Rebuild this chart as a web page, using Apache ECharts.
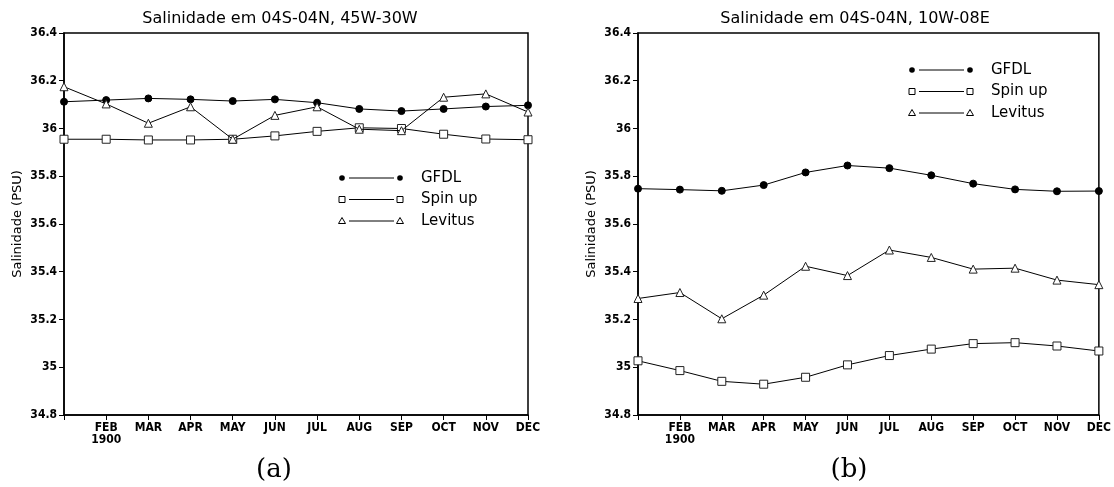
<!DOCTYPE html>
<html>
<head>
<meta charset="utf-8">
<script src="https://cdn.jsdelivr.net/npm/echarts@6/dist/echarts.min.js"></script>
<style>
html,body{margin:0;padding:0;background:#fff;}
#c{width:1114px;height:487px;}
</style>
</head>
<body>
<div id="c"></div>
<script>
// ---- data ----
var months = ['JAN','FEB','MAR','APR','MAY','JUN','JUL','AUG','SEP','OCT','NOV','DEC'];
var monthLabels = ['', 'FEB\n1900', 'MAR', 'APR', 'MAY', 'JUN', 'JUL', 'AUG', 'SEP', 'OCT', 'NOV', 'DEC'];
var seriesNames = ['GFDL', 'Spin up', 'Levitus'];
var titles = ['Salinidade em 04S-04N, 45W-30W', 'Salinidade em 04S-04N, 10W-08E'];
var captions = ['(a)', '(b)'];
var yName = 'Salinidade (PSU)';
var yMin = 34.8, yMax = 36.4, yStep = 0.2;

// panel (a): 04S-04N, 45W-30W
var gfdlA   = [36.112, 36.119, 36.126, 36.122, 36.115, 36.122, 36.108, 36.082, 36.073, 36.082, 36.092, 36.097];
var spinA   = [35.955, 35.955, 35.952, 35.952, 35.955, 35.969, 35.988, 36.003, 36.000, 35.976, 35.956, 35.953];
var levA    = [36.175, 36.103, 36.022, 36.091, 35.955, 36.055, 36.091, 35.997, 35.991, 36.131, 36.145, 36.069];

// panel (b): 04S-04N, 10W-08E
var gfdlB   = [35.748, 35.744, 35.739, 35.763, 35.816, 35.845, 35.834, 35.804, 35.769, 35.745, 35.737, 35.738];
var spinB   = [35.027, 34.986, 34.941, 34.929, 34.958, 35.010, 35.049, 35.076, 35.099, 35.103, 35.089, 35.068];
var levB    = [35.288, 35.313, 35.203, 35.302, 35.423, 35.384, 35.491, 35.460, 35.411, 35.415, 35.365, 35.346];

// ---- chart ----
var chart = echarts.init(document.getElementById('c'), null, {renderer: 'canvas'});
var tickFont = 'DejaVu Sans Condensed, DejaVu Sans, sans-serif';
var textFont = 'DejaVu Sans, sans-serif';

var grids = [
  {left: 64, top: 33, width: 464, height: 382},
  {left: 638, top: 33, width: 464, height: 382}
];

function xAx(i) {
  return {
    type: 'category', gridIndex: i, data: months, boundaryGap: false,
    axisLine: {show: true, lineStyle: {color: '#000', width: 1.5}},
    axisTick: {show: true, inside: false, length: 5, interval: 0, lineStyle: {color: '#000', width: 1}},
    axisLabel: {
      interval: 0, color: '#000', fontFamily: tickFont, fontWeight: 'bold', fontSize: 12,
      margin: 7, lineHeight: 12,
      formatter: function (v, idx) { return monthLabels[idx]; }
    },
    splitLine: {show: false}
  };
}
function yAx(i) {
  return {
    type: 'value', gridIndex: i, min: yMin, max: yMax, interval: yStep,
    name: yName, nameLocation: 'middle', nameGap: 40,
    nameTextStyle: {color: '#000', fontFamily: textFont, fontSize: 13},
    axisLine: {show: true, lineStyle: {color: '#000', width: 1.5}},
    axisTick: {show: true, inside: false, length: 5, lineStyle: {color: '#000', width: 1}},
    axisLabel: {
      color: '#000', fontFamily: tickFont, fontWeight: 'bold', fontSize: 12, margin: 7,
      formatter: function (v) { return String(parseFloat(v.toFixed(1))); }
    },
    splitLine: {show: false}
  };
}

var styles = [
  {symbol: 'circle', symbolSize: 7, itemStyle: {color: '#000', borderColor: '#000', borderWidth: 1}},
  {symbol: 'rect', symbolSize: 8, itemStyle: {color: '#fff', borderColor: '#222', borderWidth: 1}},
  {symbol: 'triangle', symbolSize: 8, itemStyle: {color: '#fff', borderColor: '#222', borderWidth: 1}}
];
var panelData = [[gfdlA, spinA, levA], [gfdlB, spinB, levB]];

var series = [];
for (var p = 0; p < 2; p++) {
  for (var s = 0; s < 3; s++) {
    series.push({
      type: 'line', name: seriesNames[s], xAxisIndex: p, yAxisIndex: p,
      data: panelData[p][s], showAllSymbol: true,
      symbol: styles[s].symbol, symbolSize: styles[s].symbolSize,
      itemStyle: styles[s].itemStyle,
      lineStyle: {color: '#000', width: 1},
      z: 2 + s, clip: false
    });
  }
}

// legend drawn as graphic (marker — line — marker  label)
var legendPos = [{x: 342, y: 178}, {x: 912, y: 70}];
var rowGap = 21.5;
var graphics = [];
function markerShape(kind, cx, cy) {
  if (kind === 0) return {type: 'circle', shape: {cx: cx, cy: cy, r: 2.8}, style: {fill: '#000'}};
  if (kind === 1) return {type: 'rect', shape: {x: cx - 3, y: cy - 3, width: 6, height: 6}, style: {fill: '#fff', stroke: '#000', lineWidth: 1}};
  return {type: 'polygon', shape: {points: [[cx, cy - 3.5], [cx + 3.5, cy + 2.5], [cx - 3.5, cy + 2.5]]}, style: {fill: '#fff', stroke: '#000', lineWidth: 1}};
}
for (var p2 = 0; p2 < 2; p2++) {
  for (var k = 0; k < 3; k++) {
    var x0 = legendPos[p2].x, y0 = legendPos[p2].y + k * rowGap;
    graphics.push(markerShape(k, x0, y0));
    graphics.push({type: 'line', shape: {x1: x0 + 7, y1: y0, x2: x0 + 52, y2: y0}, style: {stroke: '#000', lineWidth: 1}});
    graphics.push(markerShape(k, x0 + 58, y0));
    graphics.push({type: 'text', x: x0 + 79, y: y0, style: {text: seriesNames[k], fill: '#000', font: '15px ' + textFont, textVerticalAlign: 'middle', textBaseline: 'middle'}});
  }
}
// captions (a) (b)
var capX = [274, 849];
for (var c = 0; c < 2; c++) {
  graphics.push({type: 'text', x: capX[c], y: 470, style: {text: captions[c], fill: '#000', font: '26px "DejaVu Serif", "Liberation Serif", serif', textAlign: 'center', textVerticalAlign: 'middle', textBaseline: 'middle'}});
}

chart.setOption({
  animation: false,
  backgroundColor: '#fff',
  title: [
    {text: titles[0], left: 275, top: 6, textAlign: 'center', textStyle: {color: '#000', fontFamily: textFont, fontWeight: 'normal', fontSize: 16}},
    {text: titles[1], left: 850, top: 6, textAlign: 'center', textStyle: {color: '#000', fontFamily: textFont, fontWeight: 'normal', fontSize: 16}}
  ],
  grid: grids.map(function (g) { return Object.assign({show: true, borderColor: '#000', borderWidth: 1.5, backgroundColor: 'transparent'}, g); }),
  xAxis: [xAx(0), xAx(1)],
  yAxis: [yAx(0), yAx(1)],
  series: series,
  graphic: graphics
});
</script>
</body>
</html>
